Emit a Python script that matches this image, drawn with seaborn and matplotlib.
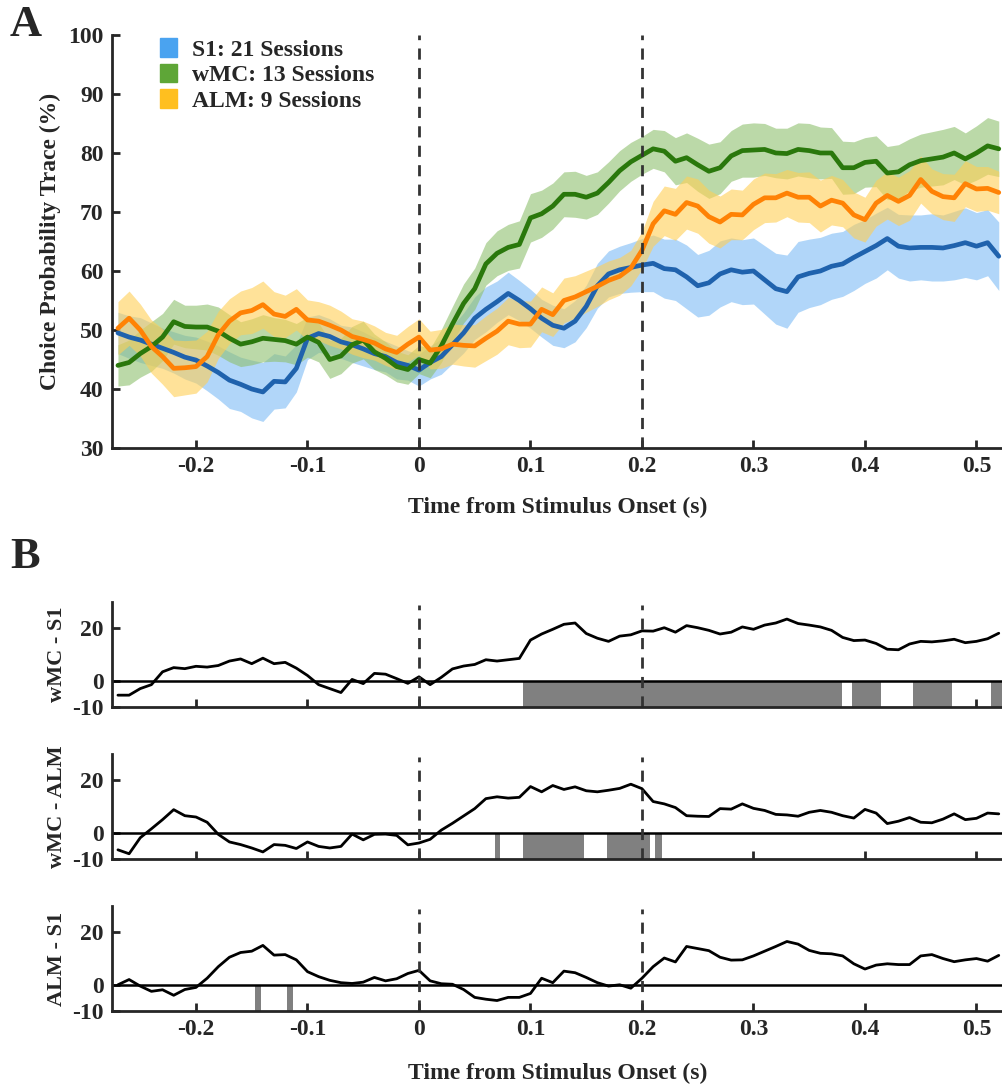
import numpy as np
import pandas as pd
import matplotlib
matplotlib.use("Agg")
import matplotlib.pyplot as plt
import matplotlib.patches as mpatches
import seaborn as sns

# time axis (s), 10 ms bins
time = np.round(np.arange(-0.27, 0.525, 0.01), 2)

# Panel A: choice probability traces (%)
s1 = [49.5, 48.8, 48.3, 47.6, 46.9, 46.2, 45.4, 44.9,
      43.9, 42.8, 41.5, 40.8, 40.0, 39.5, 41.3, 41.2, 43.5, 48.6,
      49.4, 48.9, 48.0, 47.5, 46.8, 46.0, 45.5, 44.5, 44.0, 43.2,
      44.5, 45.5, 47.5, 49.5, 52.0, 53.5, 54.8, 56.2, 55.0, 53.6,
      52.0, 50.8, 50.3, 51.5, 54.0, 57.5, 59.5, 60.2, 60.6, 61.0,
      61.3, 60.4, 60.2, 59.0, 57.5, 58.0, 59.5, 60.2, 59.8, 60.0,
      58.5, 57.0, 56.5, 59.0, 59.6, 60.0, 60.8, 61.2, 62.3, 63.3,
      64.3, 65.5, 64.2, 63.9, 64.0, 64.0, 63.9, 64.3, 64.8, 64.2, 64.8, 62.5]
wmc = [44.0, 44.5, 46.0, 47.2, 48.8, 51.4, 50.6, 50.5,
       50.5, 49.8, 48.6, 47.6, 48.0, 48.6, 48.4, 48.2, 47.6, 48.8,
       47.9, 45.0, 45.6, 47.5, 48.3, 46.3, 45.2, 43.8, 43.3, 45.0,
       44.4, 47.3, 51.0, 54.5, 57.0, 61.2, 63.0, 64.0, 64.5, 69.0,
       69.7, 71.0, 73.0, 73.0, 72.5, 73.2, 75.0, 77.0, 78.5, 79.6,
       80.7, 80.3, 78.6, 79.2, 78.0, 76.9, 77.5, 79.5, 80.4, 80.5,
       80.6, 80.0, 79.9, 80.6, 80.4, 80.0, 80.0, 77.5, 77.5, 78.4,
       78.6, 76.6, 76.8, 78.0, 78.7, 79.0, 79.3, 80.0, 79.0, 80.0, 81.2, 80.7]
alm = [50.3, 52.0, 50.0, 47.2, 45.5, 43.5, 43.6, 43.8,
       45.5, 49.2, 51.5, 52.9, 53.3, 54.3, 52.7, 52.3, 53.5, 51.7,
       51.5, 50.8, 50.0, 48.9, 48.4, 47.8, 46.8, 46.2, 47.6, 48.8,
       46.6, 46.8, 47.6, 47.4, 47.3, 48.6, 49.8, 51.5, 51.0, 51.0,
       53.5, 52.6, 55.0, 55.6, 56.5, 57.4, 58.4, 59.1, 60.5, 63.5,
       68.0, 70.2, 69.6, 71.6, 71.0, 69.2, 68.3, 69.6, 69.5, 71.3,
       72.4, 72.4, 73.2, 72.5, 72.5, 71.0, 72.0, 71.5, 69.5, 68.7,
       71.5, 72.8, 71.8, 72.8, 75.5, 73.5, 72.6, 72.4, 74.8, 73.9, 74.0, 73.3]

# standard errors (%)
s1_sem = [3.5, 3.6, 3.8, 3.6, 3.4, 3.5, 3.7, 3.9,
          4.2, 4.5, 4.8, 4.6, 4.9, 5.0, 4.7, 4.4, 4.0, 3.6,
          3.2, 3.0, 2.8, 3.0, 2.9, 2.7, 2.6, 2.8, 2.5, 2.7,
          2.8, 3.0, 3.2, 3.4, 3.6, 3.8, 3.5, 3.6, 3.4, 3.3,
          3.2, 3.4, 3.3, 3.5, 3.6, 3.8, 3.9, 4.0, 4.2, 4.5,
          4.8, 5.0, 5.2, 5.4, 5.3, 5.5, 5.6, 5.4, 5.5, 5.6,
          5.8, 6.0, 6.2, 6.0, 5.8, 5.7, 5.6, 5.5, 5.6, 5.4,
          5.5, 5.3, 5.4, 5.6, 5.5, 5.7, 5.6, 5.8, 5.9, 5.7, 5.6, 5.8]
wmc_sem = [3.5, 3.8, 4.0, 4.2, 4.0, 3.8, 3.6, 3.7,
           3.9, 4.1, 4.0, 3.8, 3.9, 4.0, 3.7, 3.6, 3.5, 3.4,
           3.3, 3.2, 3.0, 3.1, 3.2, 3.0, 2.8, 2.6, 2.5, 2.4,
           2.5, 2.8, 3.0, 3.3, 3.5, 3.6, 3.8, 3.9, 4.0, 4.1,
           4.0, 3.9, 3.8, 3.9, 3.7, 3.6, 3.5, 3.4, 3.3, 3.2,
           3.3, 3.5, 4.0, 4.2, 4.5, 4.6, 4.4, 4.3, 4.5, 4.6,
           4.4, 4.2, 4.3, 4.5, 4.6, 4.4, 4.3, 4.5, 4.4, 4.2,
           4.3, 4.5, 4.6, 4.4, 4.5, 4.6, 4.7, 4.5, 4.4, 4.6, 4.8, 4.7]
alm_sem = [4.5, 4.6, 4.4, 4.5, 4.7, 4.8, 4.6, 4.5,
           4.3, 4.0, 3.8, 3.7, 3.9, 4.0, 3.8, 3.6, 3.5, 3.4,
           3.3, 3.4, 3.2, 3.0, 3.1, 2.9, 2.8, 2.9, 3.0, 3.1,
           3.2, 3.3, 3.4, 3.5, 3.6, 3.8, 3.9, 4.0, 4.0, 3.9,
           3.8, 3.7, 3.8, 3.6, 3.5, 3.4, 3.3, 3.2, 3.0, 3.2,
           3.8, 4.2, 4.4, 4.5, 4.6, 4.5, 4.4, 4.3, 4.2, 4.3,
           4.2, 4.1, 4.0, 4.2, 4.3, 4.4, 4.2, 4.0, 3.9, 3.8,
           3.9, 4.0, 4.1, 4.2, 4.0, 3.8, 3.9, 4.0, 3.9, 3.8, 3.7, 3.6]

# Panel B: pairwise differences (%)
wmc_s1 = [-5.5, -5.5, -3.0, -1.5, 3.4, 5.0, 4.6, 5.5,
          5.2, 5.8, 7.5, 8.3, 6.5, 8.6, 6.5, 7.0, 4.8, 2.0,
          -1.5, -3.0, -4.5, 0.5, -1.1, 2.8, 2.5, 0.8, -1.0, 1.5,
          -1.5, 1.3, 4.5, 5.6, 6.2, 8.0, 7.5, 8.0, 8.5, 15.5,
          17.8, 19.6, 21.5, 22.0, 18.0, 16.2, 15.0, 17.0, 17.5, 19.0,
          18.9, 20.2, 18.5, 21.0, 20.2, 19.2, 17.8, 18.5, 20.5, 19.6,
          21.2, 22.0, 23.5, 21.8, 21.2, 20.5, 19.2, 16.5, 15.3, 15.5,
          14.2, 12.0, 11.8, 14.0, 15.0, 14.8, 15.2, 15.8, 14.5, 15.0, 16.0, 18.1]
wmc_alm = [-6.5, -8.0, -1.9, 1.5, 5.0, 8.8, 6.5, 6.0,
           4.0, -0.6, -3.5, -4.5, -5.8, -7.3, -4.5, -4.8, -6.0, -3.5,
           -5.2, -5.8, -5.2, -0.5, -2.7, -0.6, -0.5, -1.0, -4.6, -3.9,
           -2.5, 1.0, 3.6, 6.4, 9.2, 13.0, 13.7, 13.2, 13.5, 17.6,
           15.6, 18.0, 16.5, 17.5, 16.0, 15.6, 16.2, 16.9, 18.5, 16.8,
           11.9, 11.0, 9.6, 6.5, 6.3, 6.2, 9.2, 9.0, 11.0, 9.3,
           8.5, 7.0, 6.8, 6.3, 7.8, 8.5, 7.8, 6.5, 5.6, 8.9,
           7.5, 3.5, 4.4, 5.8, 4.0, 3.8, 5.2, 7.2, 5.0, 5.5, 7.5, 7.2]
alm_s1 = [0.0, 2.0, -0.5, -2.5, -1.9, -4.0, -1.8, -1.0,
          2.5, 6.9, 10.5, 12.3, 12.8, 15.0, 11.3, 11.5, 9.5, 5.0,
          3.1, 1.7, 0.8, 0.5, 1.0, 2.8, 1.5, 2.3, 4.3, 5.5,
          1.5, 0.4, 0.2, -1.8, -4.8, -5.5, -6.0, -4.8, -4.8, -3.3,
          2.5, 0.8, 5.2, 4.6, 2.8, 0.8, -0.5, 0.0, -1.3, 2.5,
          6.9, 10.2, 8.7, 14.6, 13.8, 13.0, 10.5, 9.4, 9.5, 11.0,
          12.8, 14.6, 16.5, 15.5, 13.1, 12.0, 11.8, 11.0, 8.0, 6.0,
          7.5, 8.0, 7.7, 7.7, 11.0, 11.5, 10.0, 8.8, 9.5, 10.0, 9.0, 11.2]

# significant windows (start, end) in s
sig_wmc_s1 = [(0.093, 0.379), (0.388, 0.414), (0.443, 0.478), (0.513, 0.53)]
sig_wmc_alm = [(0.068, 0.073), (0.093, 0.148), (0.169, 0.207), (0.212, 0.218)]
sig_alm_s1 = [(-0.147, -0.142), (-0.118, -0.113)]

labels = ["S1: 21 Sessions", "wMC: 13 Sessions", "ALM: 9 Sessions"]
line_cols = ["#1f62ad", "#2a780c", "#ff8205"]
band_cols = ["#7dbcf5", "#8fc06e", "#ffcf55"]
patch_cols = ["#4aa3f0", "#5ea637", "#ffbf1f"]
xticks = [-0.2, -0.1, 0, 0.1, 0.2, 0.3, 0.4, 0.5]
xticklabels = ["-0.2", "-0.1", "0", "0.1", "0.2", "0.3", "0.4", "0.5"]
xlim = (-0.2753, 0.5238)

sns.set_style("ticks")
plt.rcParams["font.family"] = ["Liberation Serif", "DejaVu Serif"]
plt.rcParams["font.weight"] = "bold"
plt.rcParams["axes.labelweight"] = "bold"
plt.rcParams["axes.unicode_minus"] = False

fig = plt.figure(figsize=(10.03, 10.89), dpi=100)


def style_axis(ax):
    for side in ["top", "right"]:
        ax.spines[side].set_visible(False)
    for side in ["left", "bottom"]:
        ax.spines[side].set_linewidth(2)
    ax.tick_params(direction="in", length=6, width=2, labelsize=17, pad=6)
    ax.set_xlim(*xlim)
    ax.set_xticks(xticks)


# ---- Panel A ----
axA = fig.add_axes([0.1117, 0.5886, 0.8883, 0.3793])
df = pd.DataFrame({"t": time, "S1": s1, "wMC": wmc, "ALM": alm})
sems = [s1_sem, wmc_sem, alm_sem]
for i, col in enumerate(["S1", "wMC", "ALM"]):
    m = np.array(df[col])
    e = np.array(sems[i])
    axA.fill_between(time, m - e, m + e, color=band_cols[i], alpha=0.6, lw=0)
for i, col in enumerate(["S1", "wMC", "ALM"]):
    sns.lineplot(data=df, x="t", y=col, ax=axA, color=line_cols[i], lw=3.4)

axA.axvline(0, color="#333333", ls=(0, (4, 3)), lw=2)
axA.axvline(0.2, color="#333333", ls=(0, (4, 3)), lw=2)
style_axis(axA)
axA.set_ylim(30, 100)
axA.set_yticks(range(30, 101, 10))
axA.set_xticklabels(xticklabels)
axA.set_xlabel("Time from Stimulus Onset (s)", fontsize=17)
axA.set_ylabel("Choice Probability Trace (%)", fontsize=17)
axA.xaxis.set_label_coords(0.5, -0.118)
axA.yaxis.set_label_coords(-0.057, 0.5)

handles = [mpatches.Patch(color=c, label=l) for c, l in zip(patch_cols, labels)]
axA.legend(handles=handles, loc="upper left", bbox_to_anchor=(0.043, 1.015),
           frameon=False, fontsize=17, handlelength=0.75, handleheight=0.85,
           handletextpad=0.6, labelspacing=0.12, borderaxespad=0)

# ---- Panel B ----
diffs = [wmc_s1, wmc_alm, alm_s1]
sigs = [sig_wmc_s1, sig_wmc_alm, sig_alm_s1]
ylabels = ["wMC - S1", "wMC - ALM", "ALM - S1"]
bottoms = [0.3508, 0.2112, 0.0716]
for k in range(3):
    ax = fig.add_axes([0.1117, bottoms[k], 0.8883, 0.0964])
    for (a, b) in sigs[k]:
        ax.fill_between([a, b], -10, 0, color="#808080", lw=0)
    ax.axhline(0, color="black", lw=1.8)
    dfd = pd.DataFrame({"t": time, "d": diffs[k]})
    sns.lineplot(data=dfd, x="t", y="d", ax=ax, color="black", lw=2)
    ax.axvline(0, ymax=0.97, color="#333333", ls=(0, (4, 3)), lw=2)
    ax.axvline(0.2, ymax=0.97, color="#333333", ls=(0, (4, 3)), lw=2)
    style_axis(ax)
    ax.set_ylim(-10, 30)
    ax.set_yticks([-10, 0, 20])
    ax.set_ylabel(ylabels[k], fontsize=16)
    ax.yaxis.set_label_coords(-0.05, 0.5)
    if k < 2:
        ax.set_xticklabels([])
        ax.set_xlabel("")
    else:
        ax.set_xticklabels(xticklabels)
        ax.set_xlabel("Time from Stimulus Onset (s)", fontsize=17)
        ax.xaxis.set_label_coords(0.5, -0.49)

fig.text(0.01, 0.995, "A", fontsize=32, fontweight="bold", va="top")
fig.text(0.01, 0.507, "B", fontsize=32, fontweight="bold", va="top")

fig.savefig("out.png", dpi=100, facecolor="white")
